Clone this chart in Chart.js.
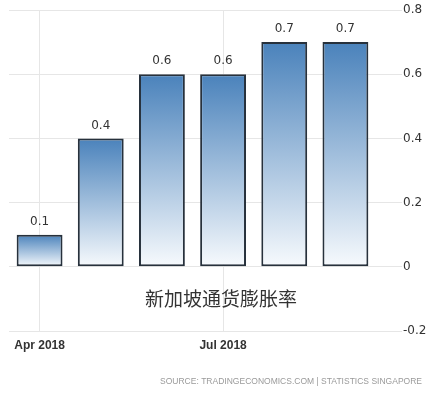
<!DOCTYPE html>
<html>
<head>
<meta charset="utf-8">
<script src="https://cdn.jsdelivr.net/npm/chart.js@4"></script>
<style>
  html, body { margin: 0; padding: 0; background: #fff; }
  #wrap { width: 439px; height: 393px; }
</style>
</head>
<body>
<div id="wrap"><canvas id="chartInflacao"></canvas></div>
<script>
// dados
const months = ["Apr 2018", "May 2018", "Jun 2018", "Jul 2018", "Aug 2018", "Sep 2018"];
const inflation = [0.1, 0.4, 0.6, 0.6, 0.7, 0.7];
const shownMonths = ["Apr 2018", "Jul 2018"];
const chartTitle = "新加坡通货膨胀率";
const sourceText = "SOURCE: TRADINGECONOMICS.COM | STATISTICS SINGAPORE";

const GRID = "#e6e6e6";

// rótulos acima das barras + título e fonte
const labelsPlugin = {
  id: "labelsPlugin",
  afterDatasetsDraw(chart) {
    const ctx = chart.ctx;
    const meta = chart.getDatasetMeta(0);
    ctx.save();
    ctx.fillStyle = "#333";
    ctx.font = "12px 'DejaVu Sans'";
    ctx.textAlign = "center";
    ctx.textBaseline = "middle";
    meta.data.forEach((bar, i) => {
      ctx.fillText(String(inflation[i]), bar.x, bar.y - 13);
    });

    const y = chart.scales.y;
    ctx.font = "19px 'Noto Sans CJK SC'";
    ctx.fillStyle = "#333";
    ctx.fillText(chartTitle, 221, y.getPixelForValue(-0.1));

    ctx.font = "9px 'Liberation Sans'";
    ctx.fillStyle = "#9a9a9a";
    ctx.textAlign = "right";
    ctx.fillText(sourceText, 422, 382, 262);
    ctx.restore();
  },
};

const ctx = document.getElementById("chartInflacao");

new Chart(ctx, {
  type: "bar",
  data: {
    labels: months,
    datasets: [
      {
        data: inflation,
        backgroundColor: function (c) {
          const chart = c.chart;
          if (!chart.chartArea) return "#7fa8d0";
          const y = chart.scales.y;
          const top = y.getPixelForValue(inflation[c.dataIndex]);
          const bottom = y.getPixelForValue(0);
          const g = chart.ctx.createLinearGradient(0, top, 0, bottom);
          g.addColorStop(0, "#4a82bb");
          g.addColorStop(1, "#f7fafd");
          return g;
        },
        borderColor: "#27313c",
        borderWidth: 2,
        borderSkipped: false,
        barPercentage: 0.75,
        categoryPercentage: 1,
      },
    ],
  },
  options: {
    responsive: true,
    maintainAspectRatio: false,
    animation: false,
    layout: {
      padding: { left: 9, right: 0, top: 10, bottom: 40 },
    },
    plugins: {
      legend: { display: false },
      tooltip: { enabled: false },
    },
    scales: {
      x: {
        grid: {
          offset: false,
          drawTicks: false,
          color: (c) => (c.index === 0 || c.index === 3 ? GRID : "rgba(0,0,0,0)"),
        },
        border: { display: false },
        ticks: {
          autoSkip: false,
          maxRotation: 0,
          padding: 7,
          color: "#333",
          font: { family: "Liberation Sans", size: 12, weight: "bold" },
          callback: function (value) {
            const lbl = months[value];
            return shownMonths.includes(lbl) ? lbl : "";
          },
        },
        afterFit(scale) {
          scale.height = 22;
        },
      },
      y: {
        position: "right",
        min: -0.2,
        max: 0.8,
        grid: {
          color: GRID,
          tickLength: 26,
        },
        border: { display: false },
        ticks: {
          stepSize: 0.2,
          padding: 1,
          color: "#333",
          font: { family: "DejaVu Sans", size: 12 },
          callback: function (value) {
            return String(Math.round(value * 10) / 10);
          },
        },
        afterFit(scale) {
          scale.width = 63;
        },
      },
    },
  },
  plugins: [labelsPlugin],
});
</script>
</body>
</html>
